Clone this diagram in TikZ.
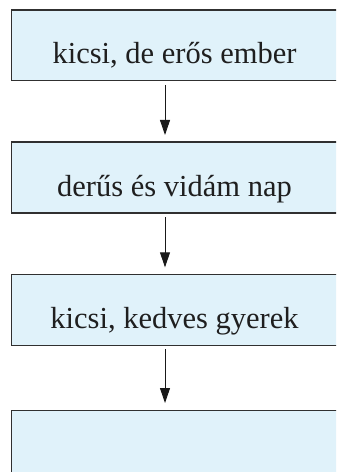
\documentclass[tikz,border=0pt]{standalone}
\usepackage{fontspec}
\setmainfont{Liberation Serif}
\usetikzlibrary{arrows.meta}
\definecolor{boxfill}{HTML}{E0F2FA}
\definecolor{boxline}{HTML}{303030}
\tikzset{
  flowbox/.style={draw=boxline, fill=boxfill, line width=1.3bp, inner sep=0pt,
    minimum width=326.4bp, text height=54bp, text depth=16.7bp, anchor=north,
    font=\fontsize{30.5bp}{36bp}\selectfont, text=black!88},
  flowarrow/.style={line width=0.9bp, black!90, -{Triangle[length=15bp,width=10bp]},
    shorten <=3.5bp, shorten >=6.5bp}
}
\begin{document}
\begin{tikzpicture}[x=1bp,y=-1bp]
\useasboundingbox (0,0) rectangle (336,472);
\clip (0,0) rectangle (336,472);
\fill[white] (0,0) rectangle (336,472);
\node[flowbox] (a) at (174.5,9.3) {kicsi, de erős ember};
\node[flowbox] (b) at (174.5,141.5) {derűs és vidám nap};
\node[flowbox] (c) at (174.5,273.8) {kicsi, kedves gyerek};
\node[flowbox] (d) at (174.5,409.5) {};
\coordinate (ax) at (165,0);
\draw[flowarrow] (a.south -| ax) -- (b.north -| ax);
\draw[flowarrow] (b.south -| ax) -- (c.north -| ax);
\draw[flowarrow] (c.south -| ax) -- (d.north -| ax);
\end{tikzpicture}
\end{document}
